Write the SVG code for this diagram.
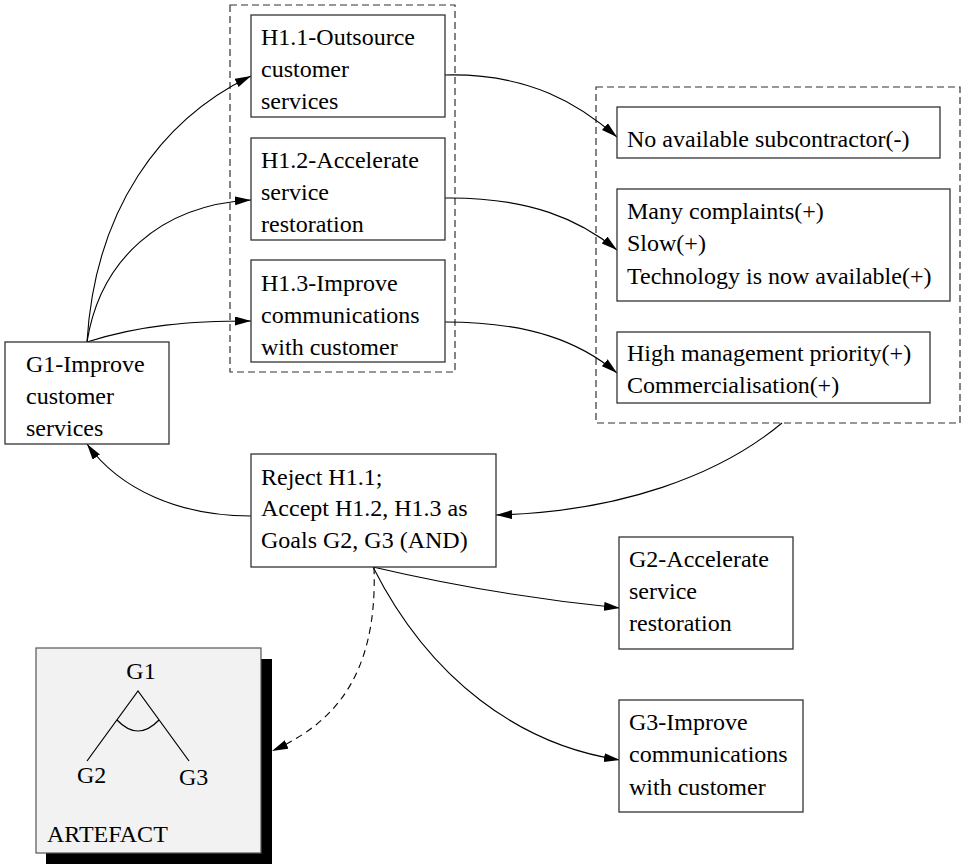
<svg xmlns="http://www.w3.org/2000/svg" width="969" height="864" viewBox="0 0 969 864">
  <style>
    text { font-family: "Liberation Serif", "Times New Roman", serif; font-size: 24px; fill: #000; }
    .box { fill: #fff; stroke: #333; stroke-width: 1.3; }
    .group { fill: none; stroke: #333; stroke-width: 1.2; stroke-dasharray: 7 4; }
    .edge { fill: none; stroke: #000; stroke-width: 1.1; }
    .dashed { stroke-dasharray: 7 5; }
    .art { fill: none; stroke: #000; stroke-width: 1.2; }
  </style>
  <defs>
    <marker id="arrow" markerUnits="userSpaceOnUse" markerWidth="17" markerHeight="10" refX="16" refY="4.5" orient="auto">
      <path d="M0,0 L16,4.5 L0,9 z" fill="#000"/>
    </marker>
  </defs>

  <rect width="969" height="864" fill="#fff"/>

  <!-- dashed groupings -->
  <g id="groups">
    <rect class="group" x="230" y="5" width="225" height="367"/>
    <rect class="group" x="596" y="87" width="364" height="336"/>
  </g>

  <!-- connectors -->
  <g id="connectors">
    <path class="edge" d="M87,342 C95,210 160,120 251,76" marker-end="url(#arrow)"/>
    <path class="edge" d="M87,342 C100,260 160,205 251,200" marker-end="url(#arrow)"/>
    <path class="edge" d="M87,342 C140,325 190,321 251,321" marker-end="url(#arrow)"/>
    <path class="edge" d="M445,75 C530,73 580,105 617,137" marker-end="url(#arrow)"/>
    <path class="edge" d="M445,198 C530,197 580,220 617,250" marker-end="url(#arrow)"/>
    <path class="edge" d="M445,322 C530,322 580,342 617,373" marker-end="url(#arrow)"/>
    <path class="edge" d="M782,423 C720,475 620,512 496,515" marker-end="url(#arrow)"/>
    <path class="edge" d="M251,516 C180,516 120,490 87,444" marker-end="url(#arrow)"/>
    <path class="edge" d="M373,567 C450,585 540,600 620,608" marker-end="url(#arrow)"/>
    <path class="edge" d="M373,567 C430,680 520,745 620,760" marker-end="url(#arrow)"/>
    <path class="edge dashed" d="M374,567 C378,680 330,725 272,751" marker-end="url(#arrow)"/>
  </g>

  <g id="H1_1">
    <rect class="box" x="251" y="15" width="194" height="102"/>
    <text x="261" y="45">H1.1-Outsource</text>
    <text x="261" y="77">customer</text>
    <text x="261" y="109">services</text>
  </g>

  <g id="H1_2">
    <rect class="box" x="251" y="138" width="194" height="102"/>
    <text x="261" y="168">H1.2-Accelerate</text>
    <text x="261" y="200">service</text>
    <text x="261" y="232">restoration</text>
  </g>

  <g id="H1_3">
    <rect class="box" x="251" y="260" width="194" height="102"/>
    <text x="261" y="291">H1.3-Improve</text>
    <text x="261" y="323">communications</text>
    <text x="261" y="355">with customer</text>
  </g>

  <g id="E1">
    <rect class="box" x="617" y="107" width="323" height="51"/>
    <text x="627" y="147">No available subcontractor(-)</text>
  </g>

  <g id="E2">
    <rect class="box" x="617" y="189" width="333" height="112"/>
    <text x="627" y="219">Many complaints(+)</text>
    <text x="627" y="251">Slow(+)</text>
    <text x="627" y="284">Technology is now available(+)</text>
  </g>

  <g id="E3">
    <rect class="box" x="617" y="332" width="313" height="71"/>
    <text x="627" y="361">High management priority(+)</text>
    <text x="627" y="393">Commercialisation(+)</text>
  </g>

  <g id="G1">
    <rect class="box" x="5" y="342" width="164" height="102"/>
    <text x="26" y="372">G1-Improve</text>
    <text x="26" y="404">customer</text>
    <text x="26" y="436">services</text>
  </g>

  <g id="decision">
    <rect class="box" x="251" y="454" width="245" height="113"/>
    <text x="261" y="485">Reject H1.1;</text>
    <text x="261" y="516">Accept H1.2, H1.3 as</text>
    <text x="261" y="548">Goals G2, G3 (AND)</text>
  </g>

  <g id="G2">
    <rect class="box" x="619" y="537" width="174" height="112"/>
    <text x="629" y="567">G2-Accelerate</text>
    <text x="629" y="599">service</text>
    <text x="629" y="631">restoration</text>
  </g>

  <g id="G3">
    <rect class="box" x="619" y="700" width="184" height="112"/>
    <text x="629" y="730">G3-Improve</text>
    <text x="629" y="762">communications</text>
    <text x="629" y="795">with customer</text>
  </g>

  <g id="artefact">
    <rect x="46" y="659" width="226" height="205" fill="#000"/>
    <rect x="36" y="648" width="225" height="205" fill="#f2f2f2" stroke="#555" stroke-width="1.2"/>
    <text x="141" y="679" text-anchor="middle">G1</text>
    <path class="art" d="M87,761 L138,691 L189,761"/>
    <path class="art" d="M117,720 Q138,742 159,720"/>
    <text x="77" y="783">G2</text>
    <text x="179" y="785">G3</text>
    <text x="47" y="842">ARTEFACT</text>
  </g>
</svg>
